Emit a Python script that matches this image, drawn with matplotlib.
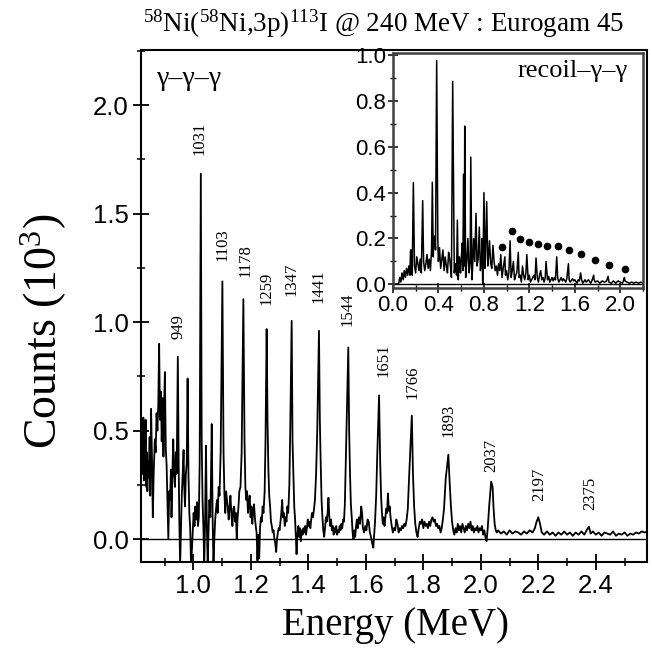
import numpy as np
import matplotlib
matplotlib.use("Agg")
import matplotlib.pyplot as plt
from matplotlib.ticker import MultipleLocator, FormatStrFormatter

# ---- data (energies in keV, counts in units of 1 = 1 count, plotted as 10^3) ----
TITLE = r"$^{58}$Ni($^{58}$Ni,3p)$^{113}$I @ 240 MeV : Eurogam 45"

# main gamma-gamma-gamma spectrum: strong peaks (apex)
peak_kev = [881, 901, 946, 980, 1026, 1044, 1064, 1101, 1174, 1255, 1342, 1437,
            1539, 1646, 1760, 1887, 2036, 2200, 2376]
peak_counts = [900, 770, 840, 740, 1685, 430, 530, 1188, 1106, 968, 1006, 960,
               883, 662, 569, 389, 265, 100, 57]

# background / flanks
bg_low = [(819, 380), (822, 520), (824, 300), (826, 560), (828, 270), (830, 480), (832, 330),
          (834, 550), (836, 240), (838, 400), (840, 220), (842, 360), (845, 280), (848, 470),
          (850, 200), (853, 600), (856, 380), (859, 100), (862, 300), (866, 460), (869, 400),
          (872, 580), (875, 500), (878, 620), (884, 550), (887, 680), (890, 450), (893, 650),
          (896, 380), (898, 600), (904, 420), (907, 340), (910, 180), (913, 0), (916, 220),
          (919, 180), (922, 320), (924, 100), (927, 300), (930, 460), (933, 300), (936, 240),
          (939, 400), (942, 300), (949, 350), (951, 100), (954, -120), (957, 50), (960, 210),
          (963, 300), (966, 410), (968, 250), (971, 150), (974, 300), (977, 350), (983, 300),
          (986, 120), (989, 50), (992, -120), (995, -50), (998, 30), (1001, 120), (1004, 60),
          (1007, 150), (1010, 90), (1013, 170), (1016, 60), (1019, 100), (1022, 350),
          (1029, 450), (1032, 180), (1035, 50), (1038, -120), (1041, 100), (1047, 50),
          (1050, -120), (1053, 50), (1056, 180), (1059, 100), (1061, 250), (1067, 100),
          (1070, -120), (1073, 0), (1076, 90), (1079, 140), (1082, 180), (1085, 120),
          (1088, 240), (1091, 200), (1095, 400)]

bg_mid = [(1105, 400), (1108, 210), (1111, 120), (1114, 220), (1117, 180), (1120, 140),
          (1123, 90), (1126, 150), (1129, 200), (1133, 100), (1136, 60), (1139, 140),
          (1142, 150), (1145, 80), (1148, 120), (1151, 0), (1154, 100), (1157, 150),
          (1160, 220), (1164, 240), (1168, 400), (1178, 450), (1181, 240), (1184, 180),
          (1187, 220), (1190, 120), (1193, 170), (1196, 200), (1199, 100), (1202, 150),
          (1205, 70), (1208, 120), (1211, 160), (1214, 100), (1217, 60), (1220, 30),
          (1223, -100), (1226, 20), (1229, -90), (1232, 50), (1235, 100), (1238, 80),
          (1241, 150), (1244, 120), (1248, 220), (1251, 450), (1258, 550), (1261, 320),
          (1264, 200), (1267, 150), (1270, 80), (1273, 60), (1276, 30), (1279, 40), (1282, 0),
          (1285, -20), (1288, -60), (1291, 0), (1294, 30), (1297, 50), (1300, 40), (1303, 80),
          (1306, 120), (1309, 180), (1312, 100), (1315, 120), (1318, 60), (1321, 100),
          (1324, 80), (1327, 150), (1330, 120), (1334, 250), (1337, 500), (1345, 450),
          (1348, 300), (1351, 150), (1354, 90), (1357, 0), (1359, -70), (1362, 20), (1365, 60),
          (1368, 10), (1371, 50), (1374, -10), (1377, 40), (1380, 20), (1383, 50), (1386, 30),
          (1389, 60), (1392, 20), (1395, 50), (1398, 90), (1401, 60), (1404, 80), (1407, 50),
          (1410, 90), (1413, 120), (1416, 100), (1420, 140), (1423, 180), (1427, 300),
          (1431, 500), (1440, 550), (1443, 350), (1446, 180), (1449, 100), (1452, 40),
          (1455, 10), (1458, 50), (1461, 100), (1464, 80), (1467, 120), (1470, 190),
          (1473, 100), (1476, 60), (1479, 90), (1482, 40), (1485, 60), (1488, 20), (1491, 50),
          (1494, 30), (1497, 60), (1500, 20), (1503, 40), (1506, 30), (1509, 60), (1512, 40),
          (1515, 70), (1518, 50), (1521, 90), (1524, 80), (1527, 160), (1531, 400),
          (1542, 500), (1545, 300), (1548, 160), (1551, 100), (1554, 30), (1557, 0),
          (1560, 40), (1563, 10), (1566, 60), (1569, 90), (1572, 50), (1576, 100), (1580, 70),
          (1584, 150), (1587, 120), (1590, 50), (1594, 30), (1598, 60)]

bg_high = [(1602, 40), (1606, 90), (1610, 80), (1614, 30), (1618, 10), (1622, -20),
           (1626, -40), (1629, 20), (1632, 80), (1636, 200), (1640, 400), (1650, 350),
           (1653, 200), (1656, 120), (1659, 70), (1662, 100), (1665, 60), (1668, 100),
           (1671, 140), (1674, 120), (1677, 210), (1680, 130), (1683, 150), (1686, 100),
           (1690, 60), (1694, 30), (1698, 50), (1702, 40), (1706, 90), (1710, 70), (1714, 30),
           (1718, 50), (1722, 40), (1726, 60), (1730, 50), (1734, 70), (1738, 60), (1742, 90),
           (1746, 140), (1751, 300), (1764, 300), (1768, 150), (1772, 70), (1776, 30),
           (1780, 10), (1784, 50), (1788, 80), (1792, 70), (1796, 90), (1800, 50), (1804, 80),
           (1808, 60), (1812, 70), (1816, 50), (1820, 80), (1824, 60), (1828, 90), (1832, 100),
           (1836, 80), (1840, 90), (1844, 60), (1848, 70), (1852, 50), (1856, 60), (1860, 30),
           (1864, 50), (1868, 90), (1872, 140), (1878, 280), (1892, 250), (1896, 150),
           (1900, 80), (1904, 40), (1908, 20), (1912, 50), (1916, 30), (1920, 70), (1924, 40),
           (1928, 60), (1932, 30), (1936, 70), (1940, 50), (1944, 30), (1948, 60), (1952, 40),
           (1956, 70), (1960, 50), (1964, 80), (1968, 40), (1972, 60), (1976, 30), (1980, 50),
           (1984, 40), (1988, 60), (1992, 30), (1996, 50), (2000, 40), (2004, 60), (2008, 20),
           (2012, 40), (2016, 10), (2020, -10), (2024, 50), (2029, 150), (2041, 240),
           (2044, 150), (2048, 70), (2052, 40), (2056, 30), (2060, 40), (2070, 25), (2080, 35),
           (2090, 20), (2100, 40), (2110, 25), (2120, 35), (2130, 30), (2140, 20), (2150, 35),
           (2160, 25), (2170, 40), (2180, 30), (2188, 50), (2194, 80), (2206, 70), (2212, 30),
           (2220, 20), (2230, 35), (2240, 20), (2250, 30), (2260, 15), (2270, 30), (2280, 20),
           (2290, 35), (2300, 20), (2310, 30), (2320, 15), (2330, 30), (2340, 20), (2350, 35),
           (2360, 20), (2368, 40), (2382, 25), (2390, 35), (2400, 20), (2410, 30), (2420, 15),
           (2430, 30), (2440, 25), (2450, 20), (2460, 35), (2470, 15), (2480, 25), (2490, 20),
           (2500, 30), (2510, 15), (2520, 25), (2530, 20), (2540, 30), (2550, 25), (2560, 35),
           (2570, 30), (2580, 35)]

# transition labels (keV text, x in MeV, bottom of text in 10^3 counts)
label_text = ["949", "1031", "1103", "1178", "1259", "1347", "1441", "1544",
              "1651", "1766", "1893", "2037", "2197", "2375"]
label_x = [0.947, 1.023, 1.101, 1.180, 1.255, 1.342, 1.437, 1.535,
           1.660, 1.762, 1.886, 2.038, 2.202, 2.380]
label_y = [0.92, 1.77, 1.28, 1.21, 1.08, 1.12, 1.09, 0.98,
           0.745, 0.645, 0.47, 0.31, 0.175, 0.135]

# inset: recoil-gamma-gamma spectrum
inset_peak_kev = [160, 180, 210, 262, 300, 347, 365, 385, 440, 490, 526, 567, 610, 622,
                  632, 660, 685, 710, 731, 760, 785, 801, 825, 850, 880, 949, 985, 1031,
                  1060, 1103, 1140, 1178, 1259, 1300, 1347, 1441, 1544, 1651, 1766, 1893, 2037]
inset_peak_cts = [150, 443, 120, 365, 130, 445, 210, 975, 150, 140, 885, 280, 180, 480,
                  690, 200, 555, 200, 310, 250, 200, 400, 360, 190, 170, 130, 120, 190,
                  100, 140, 80, 130, 115, 60, 100, 120, 90, 50, 40, 35, 30]
inset_bg = [(50, 0), (60, 30), (70, 10), (80, 50), (90, 20), (100, 60), (110, 30), (120, 70),
            (130, 40), (140, 80), (150, 40), (155, 150), (165, 60), (170, 40), (190, 80),
            (200, 50), (220, 90), (230, 60), (240, 110), (250, 50), (270, 100), (280, 60),
            (290, 90), (310, 70), (320, 110), (330, 60), (340, 150), (355, 120), (360, 200),
            (370, 210), (375, 150), (395, 200), (400, 100), (410, 160), (420, 70), (430, 110),
            (450, 60), (460, 120), (470, 80), (480, 50), (500, 110), (510, 60), (515, 30),
            (540, 50), (550, 90), (560, 40), (575, 20), (585, 120), (595, 50), (600, 100),
            (615, 60), (628, 80), (640, 30), (650, 100), (670, 50), (680, 90), (695, 20),
            (700, 60), (720, 100), (740, 80), (750, 110), (770, 60), (780, 120), (790, 0),
            (810, 70), (815, 130), (835, 80), (840, 110), (860, 90), (870, 70), (890, 100),
            (900, 60), (910, 80), (920, 40), (930, 90), (940, 60), (960, 30), (970, 70),
            (990, 40), (1000, 60), (1010, 20), (1020, 50), (1040, 30), (1050, 60), (1070, 20),
            (1080, 40), (1090, 50), (1110, 30), (1120, 40), (1130, 10), (1150, 40), (1160, 20),
            (1170, 50), (1190, 20), (1200, 40), (1210, 10), (1230, 30), (1240, 40), (1250, 20),
            (1270, 30), (1280, 10), (1290, 40), (1310, 20), (1320, 30), (1330, 10), (1340, 30),
            (1360, 20), (1370, 35), (1380, 10), (1400, 30), (1410, 15), (1420, 30), (1430, 20),
            (1450, 25), (1460, 10), (1480, 30), (1490, 15), (1500, 25), (1520, 10), (1530, 25),
            (1550, 20), (1560, 10), (1580, 25), (1590, 15), (1600, 20), (1620, 5), (1630, 20),
            (1640, 15), (1660, 20), (1670, 5), (1690, 20), (1700, 10), (1720, 20), (1740, 5),
            (1750, 15), (1770, 20), (1780, 10), (1800, 15), (1820, 5), (1840, 15), (1860, 10),
            (1880, 15), (1900, 10), (1920, 5), (1940, 15), (1960, 5), (1980, 15), (2000, 10),
            (2020, 5), (2040, 15), (2060, 10), (2080, 5), (2100, 10), (2120, 5), (2140, 10),
            (2160, 5), (2180, 10), (2200, 5)]

# band markers in the inset
dot_x = [0.958, 1.051, 1.119, 1.198, 1.275, 1.359, 1.456, 1.553, 1.658, 1.776, 1.900, 2.043]
dot_y = [0.164, 0.234, 0.196, 0.186, 0.176, 0.167, 0.167, 0.150, 0.131, 0.106, 0.084, 0.067]


def merge(bg, pk_e, pk_c):
    e = np.array([p[0] for p in bg] + list(pk_e), dtype=float)
    c = np.array([p[1] for p in bg] + list(pk_c), dtype=float)
    order = np.argsort(e)
    return e[order] / 1000.0, c[order] / 1000.0


plt.rcParams["font.family"] = ["Liberation Serif", "DejaVu Serif"]
plt.rcParams["mathtext.fontset"] = "custom"
plt.rcParams["mathtext.rm"] = "Liberation Serif"
plt.rcParams["mathtext.it"] = "Liberation Serif:italic"

SANS = "Liberation Sans"

fig = plt.figure(figsize=(6.52, 6.50), dpi=100)

# ---- main panel ----
ax = fig.add_axes([0.2163, 0.1354, 0.776, 0.7877])
e, c = merge(bg_low + bg_mid + bg_high, peak_kev, peak_counts)
ax.plot(e, c, color="black", lw=1.3)
ax.axhline(0, color="black", lw=1.0)
ax.set_xlim(0.818, 2.578)
ax.set_ylim(-0.106, 2.255)
ax.xaxis.set_major_locator(MultipleLocator(0.2))
ax.xaxis.set_minor_locator(MultipleLocator(0.1))
ax.yaxis.set_major_locator(MultipleLocator(0.5))
ax.yaxis.set_minor_locator(MultipleLocator(0.25))
ax.xaxis.set_major_formatter(FormatStrFormatter("%.1f"))
ax.yaxis.set_major_formatter(FormatStrFormatter("%.1f"))
ax.tick_params(which="major", direction="inout", length=11, width=1.3,
               labelsize=18.5, pad=3.5, labelfontfamily=SANS)
ax.tick_params(which="minor", direction="inout", length=6, width=1.1)
for s in ax.spines.values():
    s.set_linewidth(1.5)

for t, x, y in zip(label_text, label_x, label_y):
    ax.text(x, y, t, rotation=90, ha="center", va="bottom", fontsize=12)

ax.text(0.032, 0.945, "γ–γ–γ", transform=ax.transAxes, fontsize=20, ha="left", va="center")

# ---- inset ----
axin = fig.add_axes([0.6026, 0.5565, 0.3836, 0.3615])
ie, ic = merge(inset_bg, inset_peak_kev, inset_peak_cts)
axin.plot(ie, ic, color="black", lw=1.1)
axin.axhline(0, color="black", lw=1.0)
axin.plot(dot_x, dot_y, "o", color="black", ms=4.5, ls="none")
axin.set_xlim(0.0, 2.2)
axin.set_ylim(-0.017, 1.007)
axin.xaxis.set_major_locator(MultipleLocator(0.4))
axin.xaxis.set_minor_locator(MultipleLocator(0.2))
axin.yaxis.set_major_locator(MultipleLocator(0.2))
axin.yaxis.set_minor_locator(MultipleLocator(0.1))
axin.xaxis.set_major_formatter(FormatStrFormatter("%.1f"))
axin.yaxis.set_major_formatter(FormatStrFormatter("%.1f"))
axin.tick_params(which="major", direction="inout", length=7, width=1.1,
                 labelsize=16, pad=1.5, labelfontfamily=SANS)
axin.tick_params(which="minor", direction="inout", length=4, width=1.0)
for s in axin.spines.values():
    s.set_linewidth(1.8)
    s.set_color("0.25")
axin.text(0.94, 0.925, "recoil–γ–γ", transform=axin.transAxes, fontsize=19,
          ha="right", va="center")

# ---- figure texts ----
fig.text(0.589, 0.963, TITLE, ha="center", va="center", fontsize=19.5)
fig.text(0.068, 0.49, "Counts (10$^3$)", rotation=90, ha="center", va="center", fontsize=33)
fig.text(0.606, 0.038, "Energy (MeV)", ha="center", va="center", fontsize=28)

fig.savefig("out.png", dpi=100)
